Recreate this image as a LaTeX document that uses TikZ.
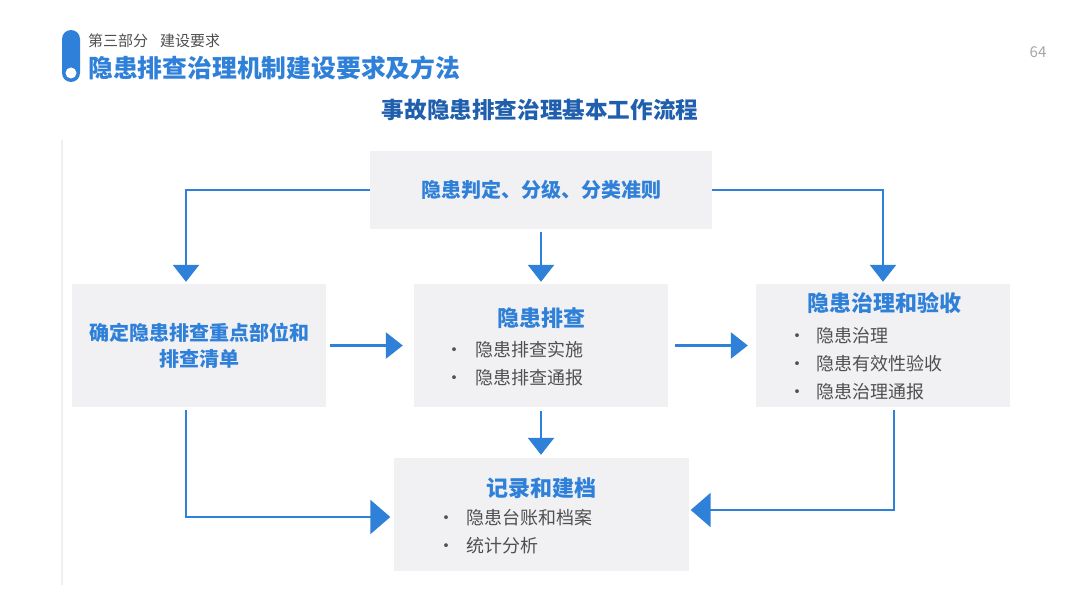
\documentclass[tikz,border=0pt]{standalone}
\usepackage{fontspec}
\setmainfont{Noto Sans CJK SC}
\usetikzlibrary{arrows.meta,positioning}
\definecolor{mainblue}{HTML}{2F80D8}
\definecolor{darkblue}{HTML}{1F5FAE}
\definecolor{boxgray}{HTML}{F1F1F4}
\definecolor{textgray}{HTML}{505050}
\definecolor{linegray}{HTML}{EFEFF2}

\begin{document}
\begin{tikzpicture}[
  x=1pt, y=-1pt,
  box/.style={fill=boxgray, inner sep=0pt},
  head/.style={font=\bfseries\fontsize{22}{26}\selectfont, text=mainblue, align=center, inner sep=0pt},
  items/.style={font=\fontsize{18}{28}\selectfont, text=textgray, align=left, anchor=north west, inner sep=0pt},
  flow/.style={draw=mainblue, line width=2.6pt, -{Triangle[width=26pt,length=17pt]}},
  bigflow/.style={draw=mainblue, line width=2.6pt, -{Triangle[width=34pt,length=20pt]}}
]
  \useasboundingbox (0,0) rectangle (1080,607);
  \fill[white] (0,0) rectangle (1080,607);

  % header
  \fill[mainblue, rounded corners=9pt] (62,30) rectangle (80,82);
  \fill[white] (71,73) circle (5.5pt);
  \node[anchor=west, inner sep=0pt, text=textgray, font=\fontsize{15}{17}\selectfont] (part) at (88,41) {第三部分\hspace{12pt}建设要求};
  \node[anchor=west, inner sep=0pt, text=mainblue, font=\bfseries\fontsize{24.8}{28}\selectfont] (title) at (88,68) {隐患排查治理机制建设要求及方法};
  \node[text=gray!70, font=\fontsize{15}{18}\selectfont] (page) at (1038,52) {64};
  \node[text=darkblue, font=\bfseries\fontsize{22.6}{26}\selectfont] (flowtitle) at (540,110) {事故隐患排查治理基本工作流程};
  \draw[linegray, line width=1.2pt] (62,140) -- (62,585);

  % boxes
  \node[box, minimum width=342pt, minimum height=78pt] (rule) at (541,190) {};
  \node[head, font=\bfseries\fontsize{20}{24}\selectfont] at (rule) {隐患判定、分级、分类准则};
  \node[box, minimum width=254pt, minimum height=123pt] (key) at (199,345.5) {};
  \node[head, font=\bfseries\fontsize{20}{26}\selectfont] at (key) {确定隐患排查重点部位和\\排查清单};
  \node[box, minimum width=254pt, minimum height=123pt] (chk) at (541,345.5) {};
  \node[head] (chk-t) at (541,318) {隐患排查};
  \node[items] (chk-l) at (445,341) {\makebox[30pt][l]{•}隐患排查实施\\\makebox[30pt][l]{•}隐患排查通报};
  \node[box, minimum width=254pt, minimum height=123pt] (fix) at (883,345.5) {};
  \node[head] (fix-t) at (884,303) {隐患治理和验收};
  \node[items] (fix-l) at (788,327) {\makebox[28pt][l]{•}隐患治理\\\makebox[28pt][l]{•}隐患有效性验收\\\makebox[28pt][l]{•}隐患治理通报};
  \node[box, minimum width=295pt, minimum height=113pt] (rec) at (541,514.5) {};
  \node[head] (rec-t) at (541,488) {记录和建档};
  \node[items] (rec-l) at (437,509) {\makebox[29pt][l]{•}隐患台账和档案\\\makebox[29pt][l]{•}统计分析};

  % connectors
  \draw[flow, shorten >=2pt] (rule.west) -| ([xshift=-13pt]key.north);
  \draw[flow, shorten >=2pt] (rule.east) -| (fix.north);
  \draw[flow, shorten <=3pt, shorten >=2pt] (rule.south) -- (chk.north);
  \draw[flow, shorten <=4pt, shorten >=11pt] (key.east) -- (chk.west);
  \draw[flow, shorten <=7pt, shorten >=8pt] (chk.east) -- (fix.west);
  \draw[flow, shorten <=4pt, shorten >=3pt] (chk.south) -- (rec.north);
  \draw[bigflow, shorten <=3pt, shorten >=3pt] ([xshift=-13pt]key.south) |- ([yshift=-2.5pt]rec.west);
  \draw[bigflow, shorten <=3pt, shorten >=2pt] ([xshift=11pt]fix.south) |- ([yshift=4.5pt]rec.east);
\end{tikzpicture}
\end{document}
